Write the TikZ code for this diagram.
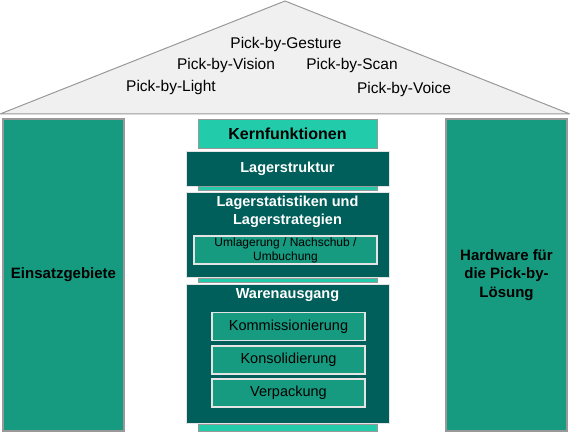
\documentclass[tikz,border=0pt]{standalone}
\usepackage{fontspec}
\setmainfont{Liberation Sans}
\usepackage{tikz}
\usetikzlibrary{positioning}
\definecolor{darkteal}{HTML}{005F5A}
\definecolor{midteal}{HTML}{169A80}
\definecolor{brightteal}{HTML}{22CCAA}
\definecolor{framegrey}{HTML}{999999}
\definecolor{roofgrey}{HTML}{F0F0F0}
\definecolor{paleline}{HTML}{E4E4E4}
\tikzset{
  roof/.style={draw=framegrey, fill=roofgrey, line width=1pt},
  picktext/.style={font=\fontsize{15.5}{18}\selectfont, inner sep=0pt},
  pillar/.style={draw=framegrey, fill=midteal, line width=1.2pt, inner sep=0pt,
    minimum width=121pt, minimum height=312pt, align=center,
    font=\bfseries\fontsize{15}{18.5}\selectfont},
  corehead/.style={draw=framegrey, fill=brightteal, line width=1pt, inner sep=0pt,
    minimum width=179pt, minimum height=28pt, font=\bfseries\fontsize{16}{19}\selectfont},
  strip/.style={draw=framegrey, fill=brightteal, line width=0.6pt, inner sep=0pt,
    minimum width=179pt, minimum height=4pt},
  darkbox/.style={draw=paleline, fill=darkteal, line width=1pt, inner sep=0pt,
    minimum width=203pt},
  boxtitle/.style={text=white, align=center, inner sep=0pt,
    font=\bfseries\fontsize{14.5}{18}\selectfont},
  subbox/.style={draw=paleline, fill=midteal, line width=1.2pt, inner sep=0pt,
    align=center, minimum height=28pt}
}
\begin{document}
\begin{tikzpicture}[x=1pt,y=-1pt]
  \useasboundingbox (0,0) rectangle (570,433);
  % Dach
  \draw[roof] (0,114) -- (285,1) -- (570,114) -- cycle;
  \node[picktext] (gesture) at (286,44) {Pick-by-Gesture};
  \node[picktext] (vision)  at (226,65) {Pick-by-Vision};
  \node[picktext] (scan)    at (352,65) {Pick-by-Scan};
  \node[picktext] (light)   at (171,87) {Pick-by-Light};
  \node[picktext] (voice)   at (404,89) {Pick-by-Voice};
  % Saeulen
  \node[pillar] (einsatz)  at (63.5,275)  {Einsatzgebiete};
  \node[pillar] (hardware) at (506.5,275) {Hardware für\\die Pick-by-\\Lösung};
  % Mittelsaeule
  \node[corehead] (kern) at (287.5,134) {Kernfunktionen};
  \node[darkbox, minimum height=35pt] (struktur) at (287.5,168.5) {};
  \node[boxtitle] (strukturtitle) at (struktur) {Lagerstruktur};
  \node[strip] (stripA) at (287.5,188.5) {};
  \node[darkbox, minimum height=85pt] (statistik) at (287.5,234.5) {};
  \node[boxtitle] (statistiktitle) at (287.5,212) {Lagerstatistiken und\\Lagerstrategien};
  \node[subbox, minimum width=183pt, font=\fontsize{12}{14}\selectfont]
    (umlagerung) at (285.5,250) {Umlagerung / Nachschub /\\Umbuchung};
  \node[strip] (stripB) at (287.5,280.5) {};
  \node[darkbox, minimum height=139pt] (waren) at (287.5,353.5) {};
  \node[boxtitle] (warentitle) at (287.5,295) {Warenausgang};
  % Teilprozesse
  \foreach \name/\ypos/\lab in {komm/326.5/Kommissionierung,
      kons/360/Konsolidierung, verp/393/Verpackung}{
    \node[subbox, minimum width=153pt, font=\fontsize{14.5}{16}\selectfont]
      (\name) at (288.5,\ypos) {\lab};
  }
  \node[strip, minimum height=7pt] (stripC) at (287.5,427.5) {};
\end{tikzpicture}
\end{document}
